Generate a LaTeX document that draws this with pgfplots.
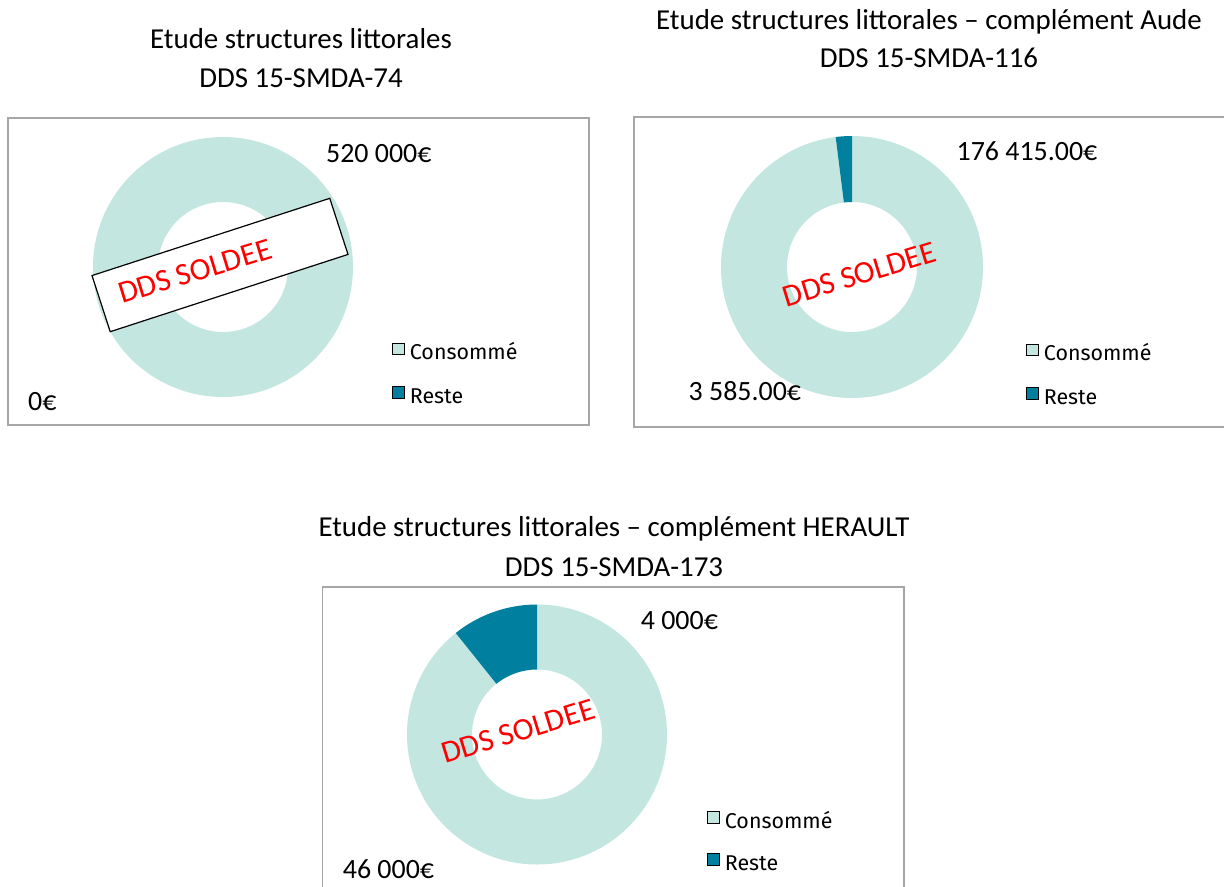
\documentclass[border=0pt]{standalone}
\usepackage{pgfplots}
\pgfplotsset{compat=1.18}
\usepackage{pgfplotstable}
\usepackage{fontspec}
\setmainfont{Carlito}
\newfontfamily\fira{Fira Sans}
\usetikzlibrary{calc}
\definecolor{conso}{RGB}{196,230,225}
\definecolor{reste}{RGB}{0,127,158}
\definecolor{cadre}{RGB}{166,166,166}

% ---- data -------------------------------------------------------
\pgfplotstableread{
poste valeur
Consomme 520000
Reste 0
}\dataA
\pgfplotstableread{
poste valeur
Consomme 176415
Reste 3585
}\dataB
\pgfplotstableread{
poste valeur
Consomme 46000
Reste 5540
}\dataC

% angle where the first slice (Consomme) ends; slices start at 12 o'clock, clockwise
\newcommand\splitangle[2]{%
  \pgfplotstablegetelem{0}{valeur}\of#1\edef\va{\pgfplotsretval}%
  \pgfplotstablegetelem{1}{valeur}\of#1\edef\vb{\pgfplotsretval}%
  \xdef#2{\fpeval{90-360*\va/(\va+\vb)}}}
\splitangle\dataA\angA
\splitangle\dataB\angB
\splitangle\dataC\angC

% ring sector: cx, cy, R, r, start, end, colour
\newcommand\ring[7]{%
  \pgfmathparse{abs(#6-#5)>359.99 ? 1 : 0}%
  \ifnum\pgfmathresult=1
    \fill[#7, even odd rule] (axis cs:#1,#2) circle[radius=#3bp] (axis cs:#1,#2) circle[radius=#4bp];
  \else
    \pgfmathparse{abs(#6-#5)>0.001 ? 1 : 0}%
    \ifnum\pgfmathresult=1
    \fill[#7] ($(axis cs:#1,#2)+(#5:#3bp)$) arc[start angle=#5,end angle=#6,radius=#3bp]
      -- ($(axis cs:#1,#2)+(#6:#4bp)$) arc[start angle=#6,end angle=#5,radius=#4bp] -- cycle;
    \fi
  \fi}

\pgfplotsset{
  donutaxis/.style={scale only axis, ticks=none, clip=false,
    axis line style={cadre, line width=1.2bp},
    legend cell align=left,
    legend style={anchor=north west, draw=none, fill=none, inner sep=0pt, outer sep=0pt,
      row sep=26.5bp, column sep=6bp,
      font=\fira\fontsize{21.5}{25}\selectfont,
      nodes={inner sep=0pt, text height=11.5bp, text depth=0bp}},
    legend image code/.code={\fill[##1] (0bp,0bp) rectangle (11.5bp,11.5bp);}},
}
\tikzset{
  lbl/.style={anchor=base west, inner sep=0pt, font=\fontsize{28}{34}\selectfont},
  solde/.style={anchor=base west, inner sep=0pt, rotate=17, text=red, font=\fontsize{31.5}{36}\selectfont},
  ttl/.style={anchor=base, inner sep=0pt, font=\fontsize{29}{35}\selectfont},
}

\begin{document}
\begin{tikzpicture}
\useasboundingbox (0,0) rectangle (1224bp,-887bp);
\clip (0,0) rectangle (1224bp,-887bp);

% ---------- chart 1 ----------
\node[ttl] at (301bp,-48bp) {Etude structures littorales};
\node[ttl] at (301bp,-87bp) {DDS 15-SMDA-74};
\begin{axis}[donutaxis, at={(8bp,-425bp)}, anchor=south west,
  width=581bp, height=307bp, xmin=8, xmax=589, ymin=-425, ymax=-118,
  legend style={at={(axis cs:392,-342.5)}}]
  \addlegendimage{fill=conso}\addlegendentry{Consommé}
  \addlegendimage{fill=reste}\addlegendentry{Reste}
  \ring{223}{-267}{130}{65}{90}{\angA}{conso}
  \ring{223}{-267}{130}{65}{\angA}{-270}{reste}
  \node[draw=black, fill=white, line width=1.2bp, rotate=18, minimum width=250bp,
        minimum height=59bp, inner sep=0pt] at (axis cs:220,-265) {};
  \node[solde] at (axis cs:122,-304) {DDS SOLDEE};
  \node[lbl] at (axis cs:326,-162) {520 000€};
  \node[lbl] at (axis cs:28,-410) {0€};
\end{axis}

% ---------- chart 2 ----------
\node[ttl] at (929bp,-29bp) {Etude structures littorales – complément Aude};
\node[ttl] at (929bp,-67bp) {DDS 15-SMDA-116};
\begin{axis}[donutaxis, at={(634bp,-427bp)}, anchor=south west,
  width=596bp, height=310bp, xmin=634, xmax=1230, ymin=-427, ymax=-117,
  legend style={at={(axis cs:1026,-343.5)}}]
  \addlegendimage{fill=conso}\addlegendentry{Consommé}
  \addlegendimage{fill=reste}\addlegendentry{Reste}
  \ring{852}{-267}{131}{65}{90}{\angB}{conso}
  \ring{852}{-267}{131}{65}{\angB}{-270}{reste}
  \node[solde] at (axis cs:786.5,-307.3) {DDS SOLDEE};
  \node[lbl] at (axis cs:956.5,-160) {176 415.00€};
  \node[lbl] at (axis cs:688.5,-400) {3 585.00€};
\end{axis}

% ---------- chart 3 ----------
\node[ttl] at (614bp,-536bp) {Etude structures littorales – complément HERAULT};
\node[ttl] at (614bp,-576bp) {DDS 15-SMDA-173};
\begin{axis}[donutaxis, at={(322.5bp,-895bp)}, anchor=south west,
  width=581.5bp, height=308bp, xmin=322.5, xmax=904, ymin=-895, ymax=-587,
  legend style={at={(axis cs:707,-811)}, row sep=25bp}]
  \addlegendimage{fill=conso}\addlegendentry{Consommé}
  \addlegendimage{fill=reste}\addlegendentry{Reste}
  \ring{537}{-734.5}{130}{65}{90}{\angC}{conso}
  \ring{537}{-734.5}{130}{65}{\angC}{-270}{reste}
  \node[solde] at (axis cs:445,-764) {DDS SOLDEE};
  \node[lbl] at (axis cs:640.7,-629) {4 000€};
  \node[lbl] at (axis cs:342.7,-878) {46 000€};
\end{axis}
\end{tikzpicture}
\end{document}
